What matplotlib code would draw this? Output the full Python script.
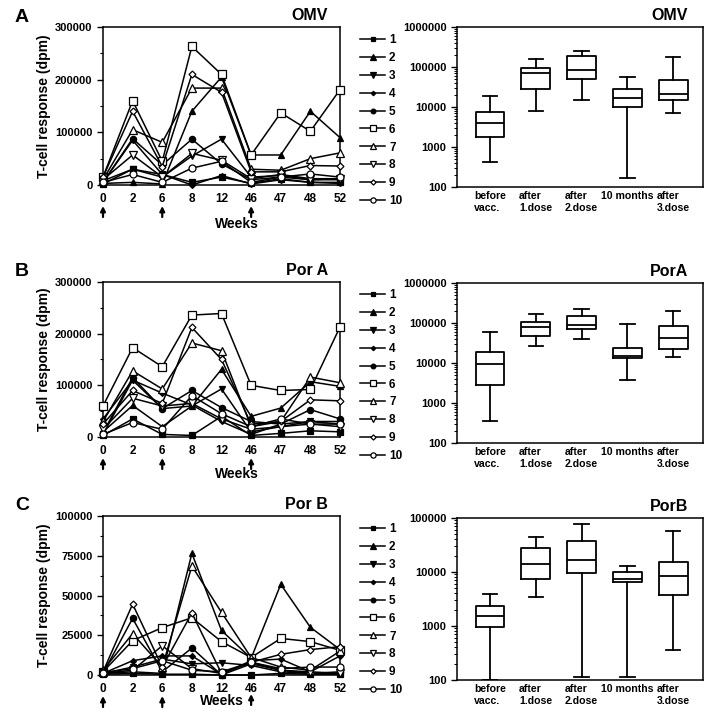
import matplotlib
matplotlib.use('Agg')
import matplotlib.pyplot as plt
from matplotlib.ticker import MultipleLocator, LogLocator, NullFormatter, FuncFormatter

plt.rcParams['font.family'] = ['Liberation Sans', 'DejaVu Sans']
plt.rcParams['font.weight'] = 'bold'
plt.rcParams['axes.labelweight'] = 'bold'

# x categories of the time course plots
weeks = ['0', '2', '6', '8', '12', '46', '47', '48', '52']
vacc_weeks = ['0', '6', '46']          # arrows under these weeks
subjects = ['1', '2', '3', '4', '5', '6', '7', '8', '9', '10']
groups = ['before\nvacc.', 'after\n1.dose', 'after\n2.dose', '10 months', 'after\n3.dose']

# panel A, OMV, one row per subject (dpm)
omv_series = [
    [2000, 30000, 20000, 5000, 15000, 3000, 12000, 5000, 5000],
    [3000, 5000, 2000, 140000, 205000, 57000, 57000, 140000, 90000],
    [8000, 30000, 15000, 55000, 87000, 15000, 18000, 10000, 10000],
    [5000, 85000, 20000, 0, 18000, 2000, 10000, 5000, 3000],
    [5000, 88000, 38000, 87000, 40000, 10000, 15000, 10000, 12000],
    [15000, 160000, 45000, 263000, 210000, 57000, 137000, 102000, 181000],
    [10000, 105000, 81000, 184000, 184000, 30000, 28000, 50000, 61000],
    [10000, 57000, 15000, 60000, 47000, 12000, 20000, 12000, 12000],
    [15000, 140000, 35000, 210000, 176000, 25000, 25000, 37000, 36000],
    [5000, 20000, 5000, 32000, 45000, 5000, 15000, 21000, 15000],
]
# panel B, Por A
pora_series = [
    [3000, 35000, 5000, 3000, 40000, 3000, 7000, 12000, 10000],
    [10000, 61000, 20000, 60000, 131000, 40000, 56000, 107000, 98000],
    [5000, 110000, 55000, 60000, 93000, 10000, 20000, 30000, 25000],
    [35000, 110000, 85000, 62000, 30000, 5000, 25000, 30000, 30000],
    [8000, 115000, 55000, 90000, 57000, 30000, 25000, 53000, 35000],
    [60000, 173000, 136000, 236000, 239000, 100000, 90000, 92000, 213000],
    [30000, 128000, 93000, 182000, 167000, 20000, 30000, 116000, 105000],
    [15000, 75000, 60000, 65000, 35000, 15000, 20000, 25000, 20000],
    [25000, 90000, 65000, 212000, 150000, 25000, 30000, 72000, 70000],
    [5000, 28000, 15000, 80000, 45000, 20000, 35000, 25000, 25000],
]
# panel C, Por B
porb_series = [
    [500, 1000, 500, 500, 0, 0, 1000, 500, 500],
    [1000, 2000, 1000, 76500, 28000, 10500, 57000, 30000, 16000],
    [1000, 5000, 10000, 7000, 7700, 6000, 2000, 1000, 1000],
    [1000, 9000, 12000, 12000, 500, 9000, 10000, 2000, 12000],
    [1000, 35600, 2000, 17000, 0, 7000, 3000, 1000, 2000],
    [2000, 21600, 29800, 36000, 21000, 11000, 23000, 21000, 15500],
    [3000, 26000, 5000, 68500, 39400, 11000, 5000, 3000, 15000],
    [1000, 3000, 18400, 4000, 1000, 8000, 3000, 2000, 1000],
    [2000, 44600, 5000, 39000, 1000, 8000, 13000, 16000, 17800],
    [1500, 4000, 9000, 3000, 2000, 8000, 4000, 5000, 5000],
]

# box plot summaries (whisker low, q1, median, q3, whisker high)
omv_whislo = [410, 7800, 15000, 167, 7200]
omv_q1 = [1800, 29000, 49000, 10000, 14600]
omv_med = [4000, 72000, 84000, 16700, 21000]
omv_q3 = [7500, 96000, 187000, 29000, 48500]
omv_whishi = [18700, 155000, 254000, 57500, 174000]

pora_whislo = [355, 26600, 40600, 3830, 13900]
pora_q1 = [2870, 47000, 70800, 13100, 22800]
pora_med = [9400, 79000, 87500, 15300, 41400]
pora_q3 = [18500, 108000, 147000, 24200, 84000]
pora_whishi = [58500, 171000, 228000, 94400, 200000]

porb_whislo = [100, 3470, 115, 115, 355]
porb_q1 = [964, 7500, 9680, 6400, 3780]
porb_med = [1560, 13800, 16600, 7480, 8400]
porb_q3 = [2300, 27400, 36900, 10100, 15300]
porb_whishi = [3890, 45000, 77400, 12700, 56600]

markers = ['s', '^', 'v', 'D', 'o', 's', '^', 'v', 'D', 'o']
fills = ['k', 'k', 'k', 'k', 'k', 'w', 'w', 'w', 'w', 'w']
sizes = [4.5, 5, 5, 3, 4.5, 5.5, 6, 5.5, 3.5, 5]

fig = plt.figure(figsize=(7.14, 7.2), dpi=100)
W, H = 714.0, 720.0


def px_axes(left, top, right, bottom):
    return fig.add_axes([left / W, 1 - bottom / H, (right - left) / W, (bottom - top) / H])


def line_panel(ax, series, ymax, major, minor, title, weeks_x, weeks_dy, arrow_dy):
    h = ax.get_position().height * H      # axes height in pixels
    xs = list(range(len(weeks)))
    for i, vals in enumerate(series):
        ax.plot(xs, vals, color='k', lw=1.1, marker=markers[i], ms=sizes[i],
                mfc=fills[i], mec='k', mew=0.9, clip_on=False, label=subjects[i], zorder=3)
    ax.set_xlim(0, len(weeks) - 1)
    ax.set_ylim(0, ymax)
    ax.set_xticks(xs)
    ax.set_xticklabels(weeks, fontsize=8.5, fontweight='bold')
    ax.tick_params(axis='x', length=0, pad=6)
    ax.yaxis.set_major_locator(MultipleLocator(major))
    ax.yaxis.set_minor_locator(MultipleLocator(minor))
    ax.yaxis.set_major_formatter(FuncFormatter(lambda v, p: '%d' % v))
    ax.tick_params(axis='y', which='major', direction='out', length=4, width=1, labelsize=8)
    ax.tick_params(axis='y', which='minor', direction='out', length=2.5, width=0.8)
    for sp in ax.spines.values():
        sp.set_linewidth(1.1)
    ax.set_ylabel('T-cell response (dpm)', fontsize=10, fontweight='bold', labelpad=3)
    ax.text(0.95, 1.025, title, transform=ax.transAxes, ha='right', va='bottom',
            fontsize=11.5, fontweight='bold')
    # vaccination arrows under the week labels
    for w in vacc_weeks:
        i = weeks.index(w)
        tail, tip = arrow_dy.get(w, (32, 21))
        ax.annotate('', xy=(i, -tip / h), xycoords=('data', 'axes fraction'),
                    xytext=(i, -tail / h), textcoords=('data', 'axes fraction'),
                    arrowprops=dict(arrowstyle='-|>', color='k', lw=1.6, mutation_scale=7,
                                    shrinkA=0, shrinkB=0), annotation_clip=False)
    ax.text(weeks_x, -weeks_dy / h, 'Weeks', transform=ax.transAxes,
            ha='center', va='center', fontsize=10, fontweight='bold')
    ax.legend(loc='upper left', bbox_to_anchor=(1.065, 0.985), frameon=False,
              fontsize=8.5, handlelength=2.1, handletextpad=0.35, labelspacing=0.5,
              borderaxespad=0, markerscale=0.75)


def log_fmt(v, p):
    return '%d' % round(v)


def box_panel(ax, whislo, q1, med, q3, whishi, ymax, title):
    stats = []
    for i in range(len(groups)):
        stats.append(dict(whislo=whislo[i], q1=q1[i], med=med[i], q3=q3[i],
                          whishi=whishi[i], label=groups[i]))
    lp = dict(color='k', lw=1.3)
    ax.bxp(stats, positions=range(1, len(groups) + 1), widths=0.63, showfliers=False,
           boxprops=lp, whiskerprops=lp, capprops=lp, medianprops=lp)
    ax.set_yscale('log')
    ax.set_ylim(100, ymax)
    ax.set_xlim(0.28, 5.65)
    ax.yaxis.set_major_locator(LogLocator(base=10, numticks=10))
    ax.yaxis.set_minor_locator(LogLocator(base=10, subs=range(2, 10), numticks=20))
    ax.yaxis.set_major_formatter(FuncFormatter(log_fmt))
    ax.yaxis.set_minor_formatter(NullFormatter())
    ax.tick_params(axis='y', which='major', direction='out', length=4, width=1, labelsize=8)
    ax.tick_params(axis='y', which='minor', direction='out', length=2, width=0.7)
    ax.tick_params(axis='x', length=0, pad=3)
    for t in ax.get_xticklabels():
        t.set_fontsize(7.6)
        t.set_fontweight('bold')
        t.set_multialignment('left')
    for sp in ax.spines.values():
        sp.set_linewidth(1.1)
    ax.text(0.94, 1.025, title, transform=ax.transAxes, ha='right', va='bottom',
            fontsize=11.5, fontweight='bold')


# panel A
axA = px_axes(103, 27, 340, 185)
line_panel(axA, omv_series, 300000, 100000, 50000, 'OMV', 0.565, 39, {})
axA2 = px_axes(457, 27, 703, 187)
box_panel(axA2, omv_whislo, omv_q1, omv_med, omv_q3, omv_whishi, 1000000, 'OMV')

# panel B
axB = px_axes(103, 282, 340, 437)
line_panel(axB, pora_series, 300000, 100000, 50000, 'Por A', 0.565, 37, {})
axB2 = px_axes(457, 283, 703, 443)
box_panel(axB2, pora_whislo, pora_q1, pora_med, pora_q3, pora_whishi, 1000000, 'PorA')

# panel C
axC = px_axes(103, 516, 340, 675)
line_panel(axC, porb_series, 100000, 25000, 12500, 'Por B', 0.50, 26, {'46': (30, 19)})
axC2 = px_axes(457, 518, 703, 680)
box_panel(axC2, porb_whislo, porb_q1, porb_med, porb_q3, porb_whishi, 100000, 'PorB')

for letter, y in [('A', 17), ('B', 272), ('C', 506)]:
    fig.text(15 / W, 1 - y / H, letter, fontsize=14, fontweight='bold', ha='left', va='center')

fig.savefig('out.png', dpi=100)
